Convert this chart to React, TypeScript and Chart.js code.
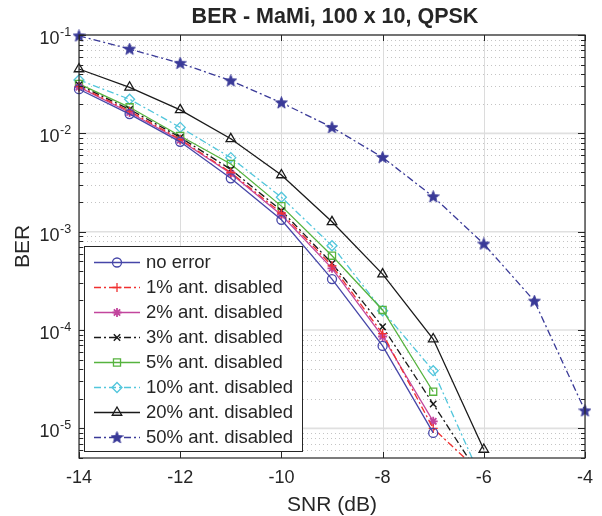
import React, { useEffect, useRef } from 'react';
import { Chart, registerables } from 'chart.js';
import { drawPoint } from 'chart.js/helpers';

Chart.register(...registerables);

// ---- data ----
const snr = [-14, -13, -12, -11, -10, -9, -8, -7, -6, -5, -4];
const berNoError = [0.0281, 0.0157, 0.0082, 0.00349, 0.00132, 3.3e-4, 6.9e-5, 9.0e-6];
const ber1 = [0.0300, 0.0168, 0.0087, 0.0040, 0.00155, 4.5e-4, 9.2e-5, 1.0e-5, 3.3e-6];
const ber2 = [0.0295, 0.0163, 0.0085, 0.0039, 0.00148, 4.24e-4, 8.6e-5, 1.18e-5];
const ber3 = [0.0310, 0.0175, 0.0091, 0.0043, 0.00164, 4.77e-4, 1.08e-4, 1.77e-5, 2.85e-6];
const ber5 = [0.0318, 0.0184, 0.0094, 0.00488, 0.00182, 5.7e-4, 1.6e-4, 2.36e-5];
const ber10 = [0.0349, 0.0222, 0.0115, 0.00566, 0.00224, 7.2e-4, 1.57e-4, 3.86e-5, 2.7e-6];
const ber20 = [0.0451, 0.0294, 0.0173, 0.0088, 0.00377, 0.00126, 3.7e-4, 8.1e-5, 6.1e-6];
const ber50 = [0.098, 0.072, 0.0516, 0.0343, 0.0205, 0.0115, 0.0057, 0.00227, 7.5e-4, 1.97e-4, 1.51e-5];

const seriesLabels = [
  'no error',
  '1% ant. disabled',
  '2% ant. disabled',
  '3% ant. disabled',
  '5% ant. disabled',
  '10% ant. disabled',
  '20% ant. disabled',
  '50% ant. disabled',
];
const xTickValues = [-14, -12, -10, -8, -6, -4];
const yDecadeExps = [-1, -2, -3, -4, -5];
const titleText = 'BER - MaMi, 100 x 10, QPSK';
const xTitle = 'SNR (dB)';
const yTitle = 'BER';

const FONT = '"Liberation Sans", Arial, Helvetica, sans-serif';
const AXIS_COLOR = '#262626';
const DASHDOT = [7, 3, 2, 3];

function makeStar(color: string): HTMLCanvasElement {
  const c = document.createElement('canvas');
  c.width = 13;
  c.height = 13;
  const g = c.getContext('2d')!;
  const cx = 6.5, cy = 6.8, R = 6.2, r = 2.6;
  g.beginPath();
  for (let i = 0; i < 10; i++) {
    const rad = i % 2 === 0 ? R : r;
    const ang = -Math.PI / 2 + (i * Math.PI) / 5;
    const px = cx + rad * Math.cos(ang);
    const py = cy + rad * Math.sin(ang);
    if (i === 0) g.moveTo(px, py); else g.lineTo(px, py);
  }
  g.closePath();
  g.fillStyle = color;
  g.fill();
  g.strokeStyle = color;
  g.lineWidth = 1;
  g.stroke();
  return c;
}

function toPts(vals: number[]) {
  return vals.map((v, i) => ({ x: snr[i], y: v }));
}

export default function App() {
  const ref = useRef<HTMLCanvasElement | null>(null);

  useEffect(() => {
    if (!ref.current) return;
    const star = makeStar('#3a3a98');
    const clipBelow = { left: 12, top: 12, right: 12, bottom: 0 };

    const specs = [
      { data: berNoError, color: '#4646a8', dash: [], style: 'circle', r: 4.5, bw: 1.3, clip: false },
      { data: ber1, color: '#f03030', dash: DASHDOT, style: 'cross', r: 4.5, bw: 1.3, clip: clipBelow },
      { data: ber2, color: '#c2459d', dash: [], style: 'star', r: 4.5, bw: 1.8, clip: false },
      { data: ber3, color: '#1a1a1a', dash: DASHDOT, style: 'crossRot', r: 4.5, bw: 1.4, clip: clipBelow },
      { data: ber5, color: '#56b33e', dash: [], style: 'rect', r: 5, bw: 1.3, clip: false },
      { data: ber10, color: '#52c6dc', dash: DASHDOT, style: 'rectRot', r: 5, bw: 1.3, clip: clipBelow },
      { data: ber20, color: '#1a1a1a', dash: [], style: 'triangle', r: 5.5, bw: 1.3, clip: false },
      { data: ber50, color: '#3a3a98', dash: DASHDOT, style: star as any, r: 6.5, bw: 1.3, clip: false },
    ];

    const datasets = specs.map((s, i) => ({
      label: seriesLabels[i],
      data: toPts(s.data),
      borderColor: s.color,
      backgroundColor: 'rgba(0,0,0,0)',
      borderWidth: 1.3,
      borderDash: s.dash,
      pointStyle: s.style,
      pointRadius: s.r,
      pointBorderColor: s.color,
      pointBackgroundColor: 'rgba(0,0,0,0)',
      pointBorderWidth: s.bw,
      tension: 0,
      fill: false,
      clip: s.clip as any,
    }));

    const framePlugin = {
      id: 'framePlugin',
      beforeDatasetsDraw(chart: any) {
        const { ctx, chartArea: a, scales } = chart;
        const ys = scales.y;
        const xs = scales.x;
        ctx.save();
        ctx.fillStyle = '#ffffff';
        ctx.fillRect(a.left, a.top, a.right - a.left, a.bottom - a.top);
        // minor horizontal grid (dotted)
        ctx.strokeStyle = '#c4c4c4';
        ctx.lineWidth = 1;
        ctx.setLineDash([1, 3]);
        for (let e = -6; e <= -1; e++) {
          for (let m = 2; m <= 9; m++) {
            const v = m * Math.pow(10, e);
            if (v < ys.min || v > ys.max) continue;
            const py = Math.round(ys.getPixelForValue(v)) + 0.5;
            ctx.beginPath();
            ctx.moveTo(a.left, py);
            ctx.lineTo(a.right, py);
            ctx.stroke();
          }
        }
        // major grid
        ctx.setLineDash([]);
        ctx.strokeStyle = '#e0e0e0';
        ctx.lineWidth = 1.6;
        yDecadeExps.forEach((e) => {
          const py = ys.getPixelForValue(Math.pow(10, e));
          ctx.beginPath();
          ctx.moveTo(a.left, py);
          ctx.lineTo(a.right, py);
          ctx.stroke();
        });
        ctx.lineWidth = 1;
        ctx.strokeStyle = '#dcdcdc';
        xTickValues.forEach((v) => {
          const px = Math.round(xs.getPixelForValue(v)) + 0.5;
          ctx.beginPath();
          ctx.moveTo(px, a.top);
          ctx.lineTo(px, a.bottom);
          ctx.stroke();
        });
        ctx.restore();
      },
      afterDatasetsDraw(chart: any) {
        const { ctx, chartArea: a, scales } = chart;
        const ys = scales.y;
        const xs = scales.x;
        ctx.save();
        ctx.strokeStyle = AXIS_COLOR;
        ctx.lineWidth = 1.2;
        ctx.setLineDash([]);
        ctx.strokeRect(a.left, a.top, a.right - a.left, a.bottom - a.top);
        ctx.lineWidth = 1;
        // y ticks (inside, both sides)
        for (let e = -6; e <= -1; e++) {
          for (let m = 1; m <= 9; m++) {
            const v = m * Math.pow(10, e);
            if (v < ys.min * 0.999 || v > ys.max * 1.001) continue;
            const len = m === 1 ? 7 : 4;
            const py = Math.round(ys.getPixelForValue(v)) + 0.5;
            ctx.beginPath();
            ctx.moveTo(a.left, py);
            ctx.lineTo(a.left + len, py);
            ctx.moveTo(a.right, py);
            ctx.lineTo(a.right - len, py);
            ctx.stroke();
          }
        }
        xTickValues.forEach((v) => {
          const px = Math.round(xs.getPixelForValue(v)) + 0.5;
          ctx.beginPath();
          ctx.moveTo(px, a.bottom);
          ctx.lineTo(px, a.bottom - 6);
          ctx.moveTo(px, a.top);
          ctx.lineTo(px, a.top + 6);
          ctx.stroke();
        });
        ctx.restore();
      },
      afterDraw(chart: any) {
        const { ctx, chartArea: a, scales } = chart;
        const ys = scales.y;
        ctx.save();
        // title
        ctx.fillStyle = AXIS_COLOR;
        ctx.font = `bold 21.5px ${FONT}`;
        ctx.textAlign = 'center';
        ctx.textBaseline = 'middle';
        ctx.fillText(titleText, (a.left + a.right) / 2 + 3, 17);
        // y tick labels with superscript exponents
        yDecadeExps.forEach((e) => {
          const py = ys.getPixelForValue(Math.pow(10, e));
          ctx.font = `18px ${FONT}`;
          ctx.textAlign = 'right';
          ctx.textBaseline = 'middle';
          ctx.fillText('10', 59.5, py + 4);
          ctx.font = `12.5px ${FONT}`;
          ctx.textAlign = 'left';
          ctx.fillText(String(e), 60, py - 2.5);
        });
        // legend
        const bx = 84.5, by = 246.5, bw = 218, bh = 205;
        ctx.fillStyle = '#ffffff';
        ctx.fillRect(bx, by, bw, bh);
        ctx.strokeStyle = AXIS_COLOR;
        ctx.lineWidth = 1;
        ctx.strokeRect(bx, by, bw, bh);
        chart.data.datasets.forEach((ds: any, i: number) => {
          const ry = 262.5 + 25 * i;
          ctx.save();
          ctx.strokeStyle = ds.borderColor;
          ctx.lineWidth = ds.borderWidth;
          ctx.setLineDash(ds.borderDash || []);
          ctx.beginPath();
          ctx.moveTo(94, ry);
          ctx.lineTo(140, ry);
          ctx.stroke();
          ctx.setLineDash([]);
          ctx.fillStyle = ds.pointBackgroundColor;
          ctx.strokeStyle = ds.pointBorderColor;
          ctx.lineWidth = ds.pointBorderWidth;
          drawPoint(ctx, { pointStyle: ds.pointStyle, rotation: 0, radius: ds.pointRadius, borderWidth: ds.pointBorderWidth } as any, 117, ry);
          ctx.restore();
          ctx.fillStyle = AXIS_COLOR;
          ctx.font = `18.5px ${FONT}`;
          ctx.textAlign = 'left';
          ctx.textBaseline = 'middle';
          ctx.fillText(ds.label, 146, ry + 0.5);
        });
        ctx.restore();
      },
    };

    const chart = new Chart(ref.current, {
      type: 'line',
      data: { datasets: datasets as any },
      options: {
        responsive: false,
        animation: false,
        devicePixelRatio: 1,
        layout: { padding: { left: 0, right: 8, top: 35, bottom: 0 } },
        plugins: {
          legend: { display: false },
          title: { display: false },
          tooltip: { enabled: false },
        },
        scales: {
          x: {
            type: 'linear',
            min: -14,
            max: -4,
            grid: { display: false, drawTicks: false },
            border: { display: false },
            ticks: {
              stepSize: 2,
              color: AXIS_COLOR,
              font: { family: FONT, size: 18 },
              padding: 9,
              maxRotation: 0,
            },
            title: {
              display: true,
              text: xTitle,
              color: AXIS_COLOR,
              font: { family: FONT, size: 21 },
              padding: { top: 0, bottom: -2 },
            },
            afterFit: (s: any) => { s.height = 58; },
          },
          y: {
            type: 'logarithmic',
            min: 5e-6,
            max: 0.1,
            grid: { display: false, drawTicks: false },
            border: { display: false },
            ticks: { display: false },
            title: {
              display: true,
              text: yTitle,
              color: AXIS_COLOR,
              font: { family: FONT, size: 21 },
              padding: { top: 11, bottom: 0 },
            },
            afterFit: (s: any) => { s.width = 79; },
          },
        },
      },
      plugins: [framePlugin],
    });
    return () => chart.destroy();
  }, []);

  return (
    <div style={{ position: 'absolute', left: 0, top: 0, width: 602, height: 516, background: '#fff' }}>
      <canvas ref={ref} width={602} height={516} style={{ display: 'block' }} />
    </div>
  );
}
